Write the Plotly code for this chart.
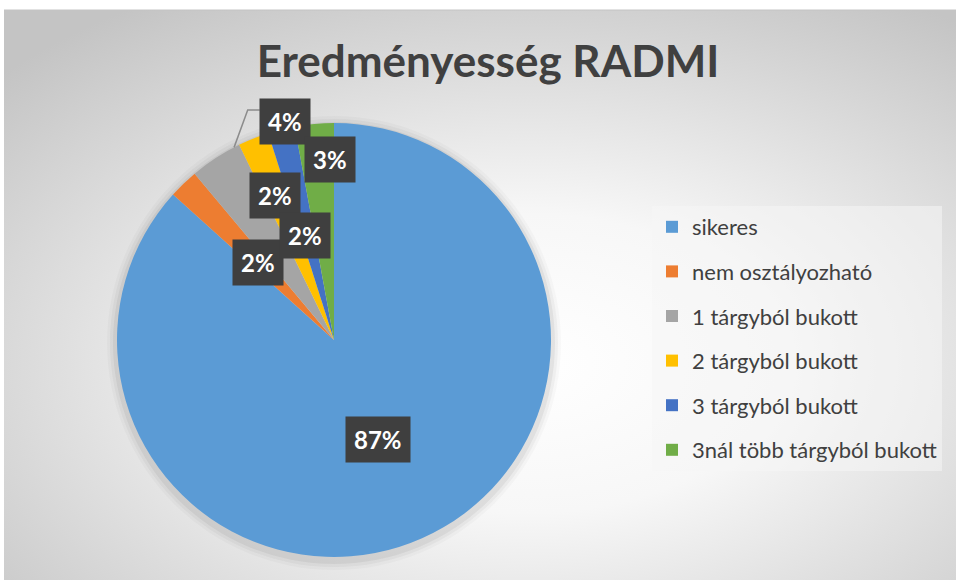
import base64, math
import plotly.graph_objects as go

# ---- data ----
categories = ["sikeres", "nem osztályozható", "1 tárgyból bukott",
              "2 tárgyból bukott", "3 tárgyból bukott", "3nál több tárgyból bukott"]
values = [86.7, 2.2, 3.9, 2.3, 2.0, 2.9]
colors = ["#5B9BD5", "#ED7D31", "#A5A5A5", "#FFC000", "#4472C4", "#70AD47"]
title_text = "Eredményesség RADMI"

# ---- layout geometry (pixels) ----
W, H = 956, 580
CX, CY, R = 334, 340, 217          # pie centre / radius in px (from top-left)
# label placement style: radial fraction and angular nudge (deg)
lab_r = [0.5, 0.5, 1.03, 0.72, 0.5, 0.83]
lab_da = [0, -0.7, 20.2, -0.5, -1.5, 4.0]

def px2paper(x, y):
    return x / W, 1 - y / H

dom_x = [(CX - R) / W, (CX + R) / W]
dom_y = [1 - (CY + R) / H, 1 - (CY - R) / H]

fig = go.Figure()

fig.add_trace(go.Pie(
    labels=categories, values=values, sort=False, direction="clockwise",
    rotation=0, marker=dict(colors=colors, line=dict(width=0)),
    textinfo="none", hoverinfo="label+percent", showlegend=False,
    domain=dict(x=dom_x, y=dom_y),
))

# legend via dummy traces (for spacing control)
for c, col in zip(categories, colors):
    fig.add_trace(go.Scatter(
        x=[None], y=[None], mode="markers", name=c, legendgroup=c,
        marker=dict(symbol="square", size=12, color=col),
        showlegend=True, hoverinfo="skip"))

# background radial gradient
svg = f'''<svg xmlns="http://www.w3.org/2000/svg" width="952" height="570" viewBox="0 0 952 570">
<defs><radialGradient id="g" cx="55%" cy="62%" r="75%">
<stop offset="0" stop-color="#ffffff"/><stop offset="0.35" stop-color="#f7f7f7"/>
<stop offset="1" stop-color="#c4c4c4"/></radialGradient></defs>
<rect width="952" height="570" fill="url(#g)"/></svg>'''
src = "data:image/svg+xml;base64," + base64.b64encode(svg.encode()).decode()
bx0, by0 = px2paper(4, 10)

shapes = [dict(type="line", xref="paper", yref="paper", x0=bx0, x1=1, y0=by0, y1=by0,
               line=dict(color="#c4c4c4", width=1), layer="below")]
for k, a in [(10, 0.025), (7, 0.035), (4, 0.05)]:
    x0, y0 = px2paper(CX - R - k, CY - R - k + 3)
    x1, y1 = px2paper(CX + R + k, CY + R + k + 3)
    shapes.append(dict(type="circle", xref="paper", yref="paper", x0=x0, x1=x1, y0=y1, y1=y0,
                       fillcolor=f"rgba(0,0,0,{a})", line=dict(width=0), layer="below"))

# data labels
total = sum(values)
cum = 0.0
annotations = []
for i, v in enumerate(values):
    a0 = cum / total * 360
    cum += v
    a1 = cum / total * 360
    mid = (a0 + a1) / 2 + lab_da[i]
    th = math.radians(mid)
    lx = CX + lab_r[i] * R * math.sin(th)
    ly = CY - lab_r[i] * R * math.cos(th)
    txt = f"{round(v / total * 100)}%"
    px, py = px2paper(lx, ly)
    annotations.append(dict(x=px, y=py, xanchor="center", yanchor="middle", showarrow=False,
                            text=f"<b>{txt}</b>", font=dict(family="Lato", size=24, color="white"),
                            bgcolor="#3f3f3f", borderpad=8, xref="paper", yref="paper"))
    if lab_r[i] > 1:
        # elbow leader line from box to the slice rim
        tth = math.radians(a1 - 1.5)
        tx = CX + R * math.sin(tth)
        ty = CY - R * math.cos(tth)
        p0 = px2paper(lx - 25, ly - 12)
        p1 = px2paper(lx - 37, ly - 12)
        p2 = px2paper(tx, ty)
        path = f"M {p0[0]} {p0[1]} L {p1[0]} {p1[1]} L {p2[0]} {p2[1]}"
        shapes.append(dict(type="path", xref="paper", yref="paper", path=path,
                           line=dict(color="#8c8c8c", width=1.5), layer="above"))

lx0, ly0 = px2paper(652, 206)
fig.update_layout(
    width=W, height=H, margin=dict(l=0, r=0, t=0, b=0),
    paper_bgcolor="white", plot_bgcolor="rgba(0,0,0,0)",
    xaxis=dict(visible=False), yaxis=dict(visible=False),
    title=dict(text=f"<b>{title_text}</b>", x=488 / W, xanchor="center", y=1 - 62 / H, yanchor="middle",
               font=dict(family="Lato", size=44, color="#404040")),
    legend=dict(x=lx0, y=ly0, xanchor="left", yanchor="top", traceorder="grouped",
                tracegroupgap=13, bgcolor="rgba(246,246,246,0.55)",
                font=dict(family="Lato", size=22, color="#404040"), itemwidth=30),
    images=[dict(source=src, xref="paper", yref="paper", x=bx0, y=by0, sizex=1 - bx0, sizey=by0,
                 xanchor="left", yanchor="top", sizing="stretch", layer="below")],
    shapes=shapes, annotations=annotations,
)

fig.write_html("out.html", config={"displayModeBar": False},
               post_script="document.body.style.margin='0';")
